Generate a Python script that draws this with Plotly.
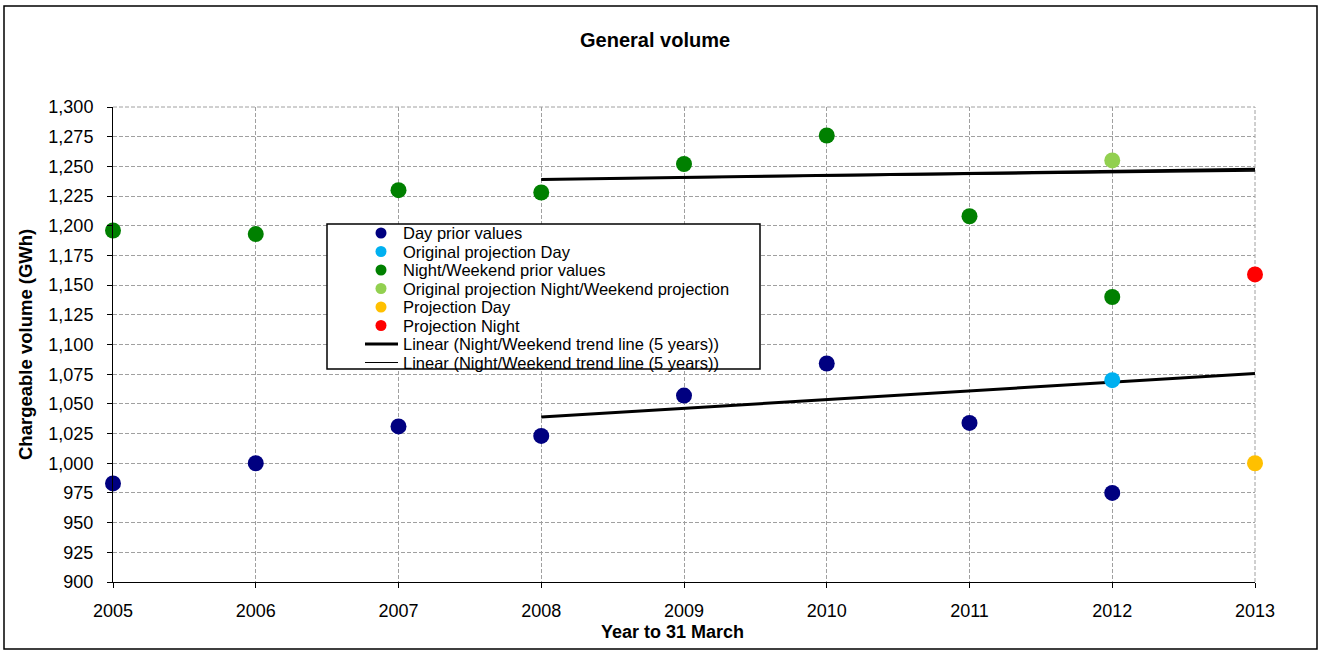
import plotly.graph_objects as go

years = [2005, 2006, 2007, 2008, 2009, 2010, 2011, 2012]
day_prior = [983, 1000, 1031, 1023, 1057, 1084, 1034, 975]
night_prior = [1196, 1193, 1230, 1228, 1252, 1276, 1208, 1140]

orig_proj_day_x = [2012]
orig_proj_day_y = [1070]
orig_proj_night_x = [2012]
orig_proj_night_y = [1255]
proj_day_x = [2013]
proj_day_y = [1000]
proj_night_x = [2013]
proj_night_y = [1159]

trend_x = [2008, 2013]
trend_night_thick = [1239, 1247.5]
trend_night_thin = [1239, 1246.2]
trend_day_thick = [1039, 1075.5]

legend_labels = [
    "Day prior values",
    "Original projection Day",
    "Night/Weekend prior values",
    "Original projection Night/Weekend projection",
    "Projection Day",
    "Projection Night",
    "Linear (Night/Weekend trend line (5 years))",
    "Linear (Night/Weekend trend line (5 years))",
]
marker_colors = ["#000080", "#00B0F0", "#008000", "#92D050", "#FFC000", "#FF0000"]

FONT = "Liberation Sans, Arial, sans-serif"
L, R, T, B = 113, 1255, 107, 582
W, H = R - L, B - T


def px(x):
    return (x - L) / W


def py(y):
    return (B - y) / H


fig = go.Figure()

# Trend lines
fig.add_trace(go.Scatter(x=trend_x, y=trend_day_thick, mode="lines",
                         line=dict(color="black", width=3),
                         name=legend_labels[6], cliponaxis=False))
fig.add_trace(go.Scatter(x=trend_x, y=trend_night_thin, mode="lines",
                         line=dict(color="black", width=1.5),
                         name=legend_labels[7], cliponaxis=False))
fig.add_trace(go.Scatter(x=trend_x, y=trend_night_thick, mode="lines",
                         line=dict(color="black", width=3),
                         name=legend_labels[6], cliponaxis=False))

MS = 16
series = [
    (years, day_prior),
    (orig_proj_day_x, orig_proj_day_y),
    (years, night_prior),
    (orig_proj_night_x, orig_proj_night_y),
    (proj_day_x, proj_day_y),
    (proj_night_x, proj_night_y),
]
for (xs, ys), col, name in zip(series, marker_colors, legend_labels[:6]):
    fig.add_trace(go.Scatter(x=xs, y=ys, mode="markers",
                             marker=dict(color=col, size=MS),
                             name=name, cliponaxis=False))

GRID = "#A0A0A0"
shapes = [
    # outer chart border
    dict(type="rect", xref="paper", yref="paper",
         x0=px(4), x1=px(1317), y0=py(649), y1=py(6),
         line=dict(color="black", width=1.5), fillcolor="rgba(0,0,0,0)",
         layer="above"),
    # right vertical grid at 2013 and top grid at 1300
    dict(type="line", xref="paper", yref="paper", x0=1, x1=1, y0=0, y1=1,
         line=dict(color=GRID, width=1, dash="4px,2px"), layer="below"),
    dict(type="line", xref="paper", yref="paper", x0=0, x1=1, y0=1, y1=1,
         line=dict(color=GRID, width=1, dash="4px,2px"), layer="below"),
    # legend box
    dict(type="rect", xref="paper", yref="paper",
         x0=px(327), x1=px(760), y0=py(369), y1=py(224),
         line=dict(color="black", width=1.5), fillcolor="white",
         layer="above"),
]

annotations = [
    dict(text="<b>General volume</b>", xref="paper", yref="paper",
         x=px(655), y=py(40), xanchor="center", yanchor="middle",
         showarrow=False, font=dict(family=FONT, size=20, color="black")),
    dict(text="<b>Chargeable volume (GWh)</b>", xref="paper", yref="paper",
         x=px(25), y=py(345), xanchor="center", yanchor="middle",
         textangle=-90, showarrow=False,
         font=dict(family=FONT, size=18.5, color="black")),
    dict(text="<b>Year to 31 March</b>", xref="paper", yref="paper",
         x=px(672), y=py(632), xanchor="center", yanchor="middle",
         showarrow=False, font=dict(family=FONT, size=18, color="black")),
]

# Legend drawn inside the box
row_y = [233 + 18.5 * i for i in range(len(legend_labels))]
for i, label in enumerate(legend_labels):
    annotations.append(dict(text=label, xref="paper", yref="paper",
                            x=px(401), y=py(row_y[i]), xanchor="left",
                            yanchor="middle", showarrow=False,
                            font=dict(family=FONT, size=16.5, color="black")))
    if i < 6:
        shapes.append(dict(type="circle", xref="paper", yref="paper",
                           xsizemode="pixel", ysizemode="pixel",
                           xanchor=px(381), yanchor=py(row_y[i]),
                           x0=-5.5, x1=5.5, y0=-5.5, y1=5.5,
                           fillcolor=marker_colors[i],
                           line=dict(width=0), layer="above"))
    else:
        shapes.append(dict(type="line", xref="paper", yref="paper",
                           x0=px(365), x1=px(398),
                           y0=py(row_y[i]), y1=py(row_y[i]),
                           line=dict(color="black", width=3 if i == 6 else 1.2),
                           layer="above"))

fig.update_layout(
    width=1327, height=650,
    margin=dict(l=L, r=1327 - R, t=T, b=650 - B, autoexpand=False),
    paper_bgcolor="white", plot_bgcolor="white",
    font=dict(family=FONT, size=18, color="black"),
    showlegend=False,
    xaxis=dict(range=[2005, 2013], tickmode="linear", tick0=2005, dtick=1,
               showgrid=True, gridcolor=GRID, griddash="4px,2px", gridwidth=1,
               showline=True, linecolor="black", linewidth=1,
               ticks="outside", ticklen=5, tickcolor="black",
               ticklabelstandoff=7, zeroline=False),
    yaxis=dict(range=[900, 1300], tickmode="linear", tick0=900, dtick=25,
               tickformat=",d",
               showgrid=True, gridcolor=GRID, griddash="4px,2px", gridwidth=1,
               showline=True, linecolor="black", linewidth=1,
               ticks="outside", ticklen=5, tickcolor="black",
               ticklabelstandoff=10, zeroline=False),
    shapes=shapes,
    annotations=annotations,
)

fig.write_html("out.html",
               config={"displayModeBar": False},
               post_script="document.body.style.margin='0px';"
                           "document.body.style.overflow='hidden';")
